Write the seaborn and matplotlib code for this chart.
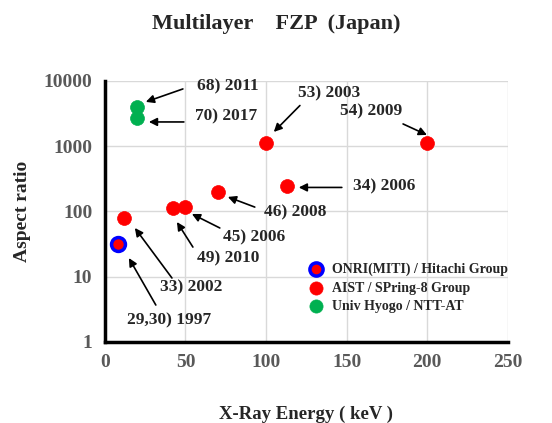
import numpy as np
import pandas as pd
import matplotlib
matplotlib.use('Agg')
import matplotlib.pyplot as plt
import matplotlib.ticker as mticker
import seaborn as sns

# data
groups = ['ONRI(MITI) / Hitachi Group', 'AIST / SPring-8 Group', 'Univ Hyogo / NTT-AT']
energy_onri = [8]
ratio_onri = [31]
energy_aist = [12, 42, 50, 70, 113, 100, 200]
ratio_aist = [78, 113, 118, 195, 244, 1130, 1130]
energy_hyogo = [20, 20]
ratio_hyogo = [3900, 2650]

labels = ['68) 2011', '70) 2017', '53) 2003', '54) 2009', '34) 2006',
          '46) 2008', '45) 2006', '49) 2010', '33) 2002', '29,30) 1997']
label_pos = [(57, 8300), (56, 2800), (120, 6500), (146, 3350), (154, 244),
             (99, 97), (73, 40), (57, 19.2), (34, 6.9), (14, 2.15)]
arrow_tail = [(48.4, 7500), (49, 2340), (121, 4180), (185, 2180), (147, 232),
              (93, 116), (71.3, 55.5), (54.6, 28.3), (41.6, 9.5), (31.6, 3.66)]
arrow_head = [(25.4, 4750), (27.3, 2340), (104.8, 1645), (199.8, 1480), (120.3, 232),
              (76.3, 166), (54, 91), (44.7, 68.5), (18.6, 55.5), (14.9, 19.2)]

df = pd.concat([
    pd.DataFrame({'energy': energy_onri, 'ratio': ratio_onri, 'group': groups[0]}),
    pd.DataFrame({'energy': energy_aist, 'ratio': ratio_aist, 'group': groups[1]}),
    pd.DataFrame({'energy': energy_hyogo, 'ratio': ratio_hyogo, 'group': groups[2]}),
])

sns.set_style('white')
plt.rcParams['font.family'] = ['Liberation Serif', 'DejaVu Serif']
plt.rcParams['font.weight'] = 'bold'

fig = plt.figure(figsize=(5.52, 4.23), dpi=100)
ax = fig.add_axes([0.19, 0.192, 0.73, 0.617])

face = {groups[0]: '#ff0000', groups[1]: '#ff0000', groups[2]: '#00b050'}
edge = {groups[0]: '#0000ff', groups[1]: '#ff0000', groups[2]: '#00b050'}
lw = {groups[0]: 2.5, groups[1]: 0.5, groups[2]: 0.5}
for g in groups:
    sub = df[df['group'] == g]
    sns.scatterplot(data=sub, x='energy', y='ratio', ax=ax, s=100, color=face[g],
                    edgecolor=edge[g], linewidth=lw[g], label=g, zorder=3)

ax.set_yscale('log')
ax.set_xlim(0, 250)
ax.set_ylim(1, 10000)
ax.set_xticks([0, 50, 100, 150, 200, 250])
ax.set_yticks([1, 10, 100, 1000, 10000])
ax.yaxis.set_major_formatter(mticker.FuncFormatter(lambda v, p: f'{v:g}'))
ax.yaxis.set_minor_locator(mticker.NullLocator())
ax.grid(True, color='#d9d9d9', lw=1)
ax.set_axisbelow(True)
for s in ['top', 'right']:
    ax.spines[s].set_visible(False)
for s in ['left', 'bottom']:
    ax.spines[s].set_color('black')
    ax.spines[s].set_linewidth(2.5)
ax.tick_params(direction='in', length=5, width=2, color='black',
               labelsize=14, labelcolor='#595959', pad=9)
for t in ax.get_xticklabels() + ax.get_yticklabels():
    t.set_fontweight('bold')

ax.set_xlabel('X-Ray Energy ( keV )', fontsize=13.5, fontweight='bold', labelpad=25)
ax.set_ylabel('Aspect ratio', fontsize=14, fontweight='bold', labelpad=9)
fig.suptitle('Multilayer    FZP  (Japan)', fontsize=16, fontweight='bold', y=0.968)

for lab, pos, tail, head in zip(labels, label_pos, arrow_tail, arrow_head):
    ax.text(pos[0], pos[1], lab, fontsize=12.5, fontweight='bold', ha='left', va='center')
    ax.annotate('', xy=head, xytext=tail,
                arrowprops=dict(arrowstyle='-|>', color='black', lw=1.2,
                                mutation_scale=12, shrinkA=0, shrinkB=0))

leg = ax.legend(loc='upper left', bbox_to_anchor=(0.475, 0.325), frameon=False,
                prop={'size': 10, 'weight': 'bold'}, handletextpad=0.2,
                labelspacing=0.4, borderaxespad=0)
for h in leg.legend_handles:
    h.set_sizes([90])

fig.savefig('out.png', dpi=100)
